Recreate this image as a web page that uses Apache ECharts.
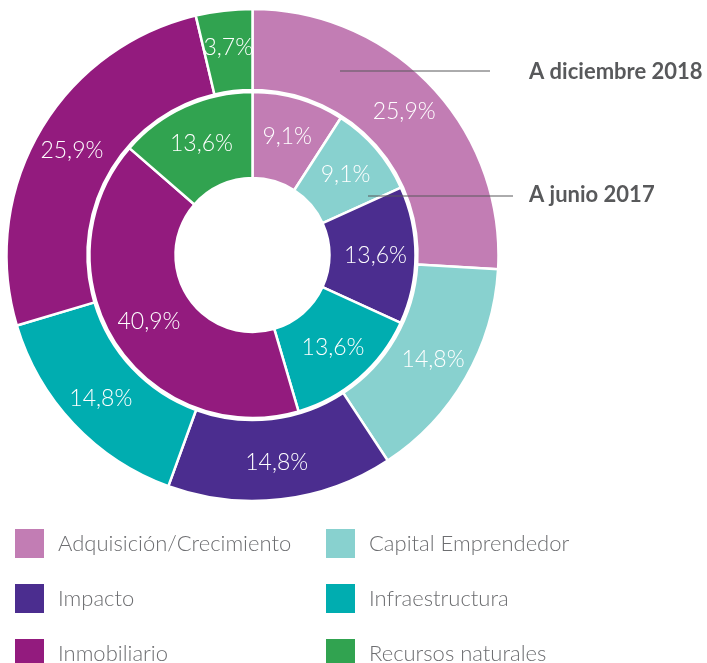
<!DOCTYPE html>
<html>
<head>
<meta charset="utf-8">
<script src="https://cdn.jsdelivr.net/npm/echarts@6/dist/echarts.min.js"></script>
<style>
  html, body { margin: 0; padding: 0; background: #fff; }
  #chart { width: 707px; height: 663px; }
</style>
</head>
<body>
<div id="chart"></div>
<script>
// categorias y valores (%)
var categorias = ['Adquisición/Crecimiento', 'Capital Emprendedor', 'Impacto', 'Infraestructura', 'Inmobiliario', 'Recursos naturales'];
var colores = ['#c27db4', '#88d1cf', '#4b2d8f', '#00adb0', '#931b7e', '#31a350'];
var diciembre2018 = [25.9, 14.8, 14.8, 14.8, 25.9, 3.7];
var junio2017 = [9.1, 9.1, 13.6, 13.6, 40.9, 13.6];

var fuente = 'Lato, Roboto, "Open Sans", sans-serif';
var cx = 252.5, cy = 255;

function armarDatos(valores) {
    return valores.map(function (v, i) {
        return { name: categorias[i], value: v, itemStyle: { color: colores[i] } };
    });
}

function etiqueta(params) {
    return params.value.toFixed(1).replace('.', ',') + '%';
}

var estiloPie = {
    type: 'pie',
    center: [cx, cy],
    startAngle: 90,
    clockwise: true,
    avoidLabelOverlap: false,
    silent: true,
    animation: false,
    itemStyle: { borderColor: '#fff', borderWidth: 2.5 },
    labelLine: { show: false },
    label: {
        show: true,
        position: 'inside',
        color: '#fff',
        fontFamily: fuente,
        fontWeight: 300,
        fontSize: 23,
        formatter: etiqueta
    }
};

function leyenda(izq, nombres) {
    return {
        orient: 'vertical',
        left: izq,
        top: 527,
        height: 150,
        padding: 0,
        itemWidth: 31,
        itemHeight: 31,
        itemGap: 22,
        icon: 'rect',
        selectedMode: false,
        data: nombres,
        textStyle: { color: '#6d6e71', fontSize: 22, fontFamily: fuente, fontWeight: 300, padding: [0, 0, 0, 8] }
    };
}

var myChart = echarts.init(document.getElementById('chart'), null, { renderer: 'canvas' });

var option = {
    backgroundColor: '#fff',
    animation: false,
    legend: [
        leyenda(13, [categorias[0], categorias[2], categorias[4]]),
        leyenda(324, [categorias[1], categorias[3], categorias[5]])
    ],
    graphic: [
        { type: 'line', shape: { x1: 340, y1: 71, x2: 490, y2: 71 }, style: { stroke: '#58595b', lineWidth: 1 }, z: 10 },
        { type: 'line', shape: { x1: 368, y1: 196, x2: 513, y2: 196 }, style: { stroke: '#58595b', lineWidth: 1 }, z: 10 },
        { type: 'text', left: 529, top: 61, style: { text: 'A diciembre 2018', fill: '#58595b', font: 'bold 22px ' + fuente } },
        { type: 'text', left: 529, top: 184, style: { text: 'A junio 2017', fill: '#58595b', font: 'bold 22px ' + fuente } }
    ],
    series: [
        Object.assign({}, estiloPie, {
            name: 'A diciembre 2018',
            radius: [165, 246],
            data: armarDatos(diciembre2018)
        }),
        Object.assign({}, estiloPie, {
            name: 'A junio 2017',
            radius: [77, 163],
            data: armarDatos(junio2017)
        })
    ]
};

myChart.setOption(option);
</script>
</body>
</html>
